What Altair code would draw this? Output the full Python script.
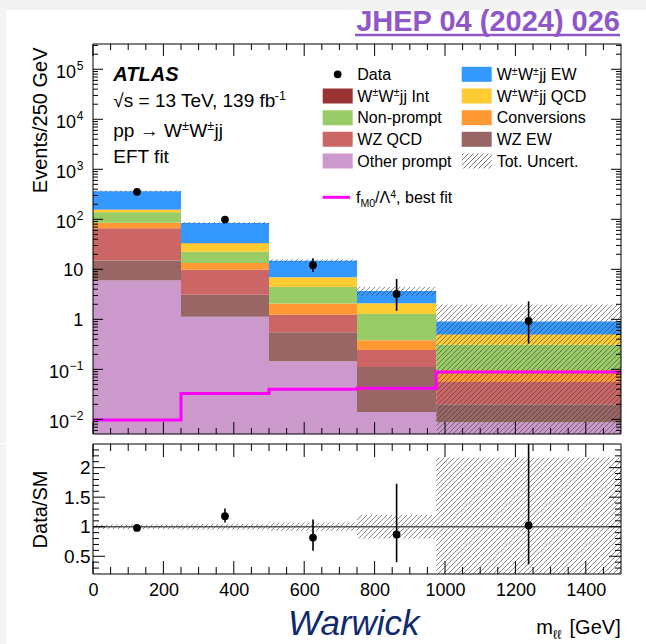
import math
import altair as alt
import pandas as pd

FONT = "Liberation Sans"

# ---------------------------------------------------------------- data
# m_ll binning [GeV]
bin_edges = [0, 250, 500, 750, 975, 1500]

# stacked SM prediction per bin, listed from the bottom of the stack upwards
processes = ["Other prompt", "WZ EW", "WZ QCD", "Conversions", "Non-prompt",
             "W±W±jj QCD", "W±W±jj Int", "W±W±jj EW"]
process_colors = ["#cc99cc", "#996666", "#cc6666", "#ff9933", "#99cc66",
                  "#ffcc33", "#993333", "#3399ff"]
other_prompt = [6.0, 1.13, 0.146, 0.014, 0.0088]
wz_ew = [9.0, 1.97, 0.409, 0.097, 0.0112]
wz_qcd = [51.5, 6.75, 0.685, 0.132, 0.036]
conversions = [18.5, 3.55, 0.83, 0.137, 0.041]
non_prompt = [53.0, 9.1, 2.38, 0.90, 0.213]
wwjj_qcd = [18.0, 10.9, 2.5, 0.82, 0.19]
wwjj_int = [0.3, 0.1, 0.02, 0.005, 0.001]
wwjj_ew = [206.0, 50.5, 7.83, 1.6, 0.409]
stack_components = [other_prompt, wz_ew, wz_qcd, conversions, non_prompt,
                    wwjj_qcd, wwjj_int, wwjj_ew]

# observed events and the ends of their error bars
data_counts = [355.0, 99.0, 12.1, 3.22, 0.93]
data_err_lo = [337.0, 90.0, 8.8, 1.48, 0.33]
data_err_hi = [374.0, 110.0, 16.6, 6.4, 2.3]

# relative total uncertainty of the prediction
unc_rel_up = [0.04, 0.05, 0.07, 0.20, 1.17]
unc_rel_dn = [0.04, 0.05, 0.07, 0.20, 1.17]

# f_M0 / Lambda^4 contribution at the best-fit value
fm0_best_fit = [0.0097, 0.033, 0.040, 0.042, 0.089]

# axis ticks
x_major_ticks = [0, 200, 400, 600, 800, 1000, 1200, 1400]
x_minor_ticks = [v for v in range(50, 1500, 50) if v % 200]
y_major_ticks = [1e-2, 1e-1, 1.0, 10.0, 1e2, 1e3, 1e4, 1e5]
ratio_major_ticks = [0.5, 1.0, 1.5, 2.0]
ratio_minor_ticks = [round(0.1 * i, 1) for i in range(3, 24) if i % 5]
y_label_plain = ["1", "10"]
y_label_pos_exp = ["2", "3", "4", "5"]
y_label_neg_exp = ["\u22121", "\u22122"]

# ---------------------------------------------------------------- layout
W, H_TOP, H_BOT = 528, 390, 130
LEFT, TOP, GAP = 93, 44, 9
PAGE_W, PAGE_H = 646, 644
X_MAX = 1500
Y_MIN, Y_MAX = 0.0051, 3.2e5
R_MIN, R_MAX = 0.2, 2.4
BOT_EXTRA = PAGE_H - (TOP + H_TOP + GAP + H_BOT)

y_minor_ticks = [m * 10.0 ** k for k in range(-3, 6) for m in range(2, 10)
                 if Y_MIN < m * 10.0 ** k < Y_MAX]

n_bins = len(bin_edges) - 1
centers = [(bin_edges[i] + bin_edges[i + 1]) / 2 for i in range(n_bins)]
totals = [sum(c[i] for c in stack_components) for i in range(n_bins)]

stack_rows = []
for i in range(n_bins):
    cum = 0.0
    for name, comp in zip(processes, stack_components):
        lo = cum if cum > 0 else Y_MIN
        cum += comp[i]
        stack_rows.append({"x0": bin_edges[i], "x1": bin_edges[i + 1],
                           "lo": lo, "hi": cum, "process": name})
stack_df = pd.DataFrame(stack_rows)

data_df = pd.DataFrame({"x": centers, "n": data_counts,
                        "lo": data_err_lo, "hi": data_err_hi})
ratio_df = pd.DataFrame({
    "x": centers,
    "r": [d / t for d, t in zip(data_counts, totals)],
    "lo": [d / t for d, t in zip(data_err_lo, totals)],
    "hi": [d / t for d, t in zip(data_err_hi, totals)],
})
fm0_df = pd.DataFrame({"x": bin_edges, "y": fm0_best_fit + [fm0_best_fit[-1]]})

# ---------------------------------------------------------------- hatching
HATCH_STEP = 5.0
L0, L1 = math.log10(Y_MIN), math.log10(Y_MAX)


def x_to_u(x):
    return x / X_MAX * W


def u_to_x(u):
    return u / W * X_MAX


def top_to_v(y):
    return (math.log10(y) - L0) / (L1 - L0) * H_TOP


def top_from_v(v):
    return 10 ** (L0 + v / H_TOP * (L1 - L0))


def bot_to_v(r):
    return (r - R_MIN) / (R_MAX - R_MIN) * H_BOT


def bot_from_v(v):
    return R_MIN + v / H_BOT * (R_MAX - R_MIN)


def hatch_lines(rects, xu, ux, yv, vy, step=HATCH_STEP):
    """45-degree '/' hatch segments filling each (x0, x1, y0, y1) box."""
    rows = []
    for x0, x1, y0, y1 in rects:
        u0, u1, v0, v1 = xu(x0), xu(x1), yv(y0), yv(y1)
        for k in range(math.ceil((v0 - u1) / step), math.floor((v1 - u0) / step) + 1):
            c = k * step
            ua, ub = max(u0, v0 - c), min(u1, v1 - c)
            if ub - ua > 0.2:
                rows.append({"x": ux(ua), "x2": ux(ub), "y": vy(ua + c), "y2": vy(ub + c)})
    return pd.DataFrame(rows)


top_band = [(bin_edges[i], bin_edges[i + 1],
             max(totals[i] * (1 - unc_rel_dn[i]), Y_MIN),
             min(totals[i] * (1 + unc_rel_up[i]), Y_MAX)) for i in range(n_bins)]
bot_band = [(bin_edges[i], bin_edges[i + 1],
             max(1 - unc_rel_dn[i], R_MIN), min(1 + unc_rel_up[i], R_MAX))
            for i in range(n_bins)]
hatch_top_df = hatch_lines(top_band, x_to_u, u_to_x, top_to_v, top_from_v)
hatch_bot_df = hatch_lines(bot_band, x_to_u, u_to_x, bot_to_v, bot_from_v)

# ---------------------------------------------------------------- rich text
CHAR_W = {" ": .278, ",": .278, "-": .333, ".": .278, "/": .278, "=": .584,
          "[": .278, "]": .278, "A": .667, "C": .722, "D": .722, "E": .667,
          "F": .611, "G": .778, "I": .278, "L": .556, "M": .833, "N": .722,
          "Q": .778, "S": .667, "T": .611, "U": .722, "V": .667, "W": .944,
          "Z": .611, "a": .556, "b": .556, "c": .5, "e": .556, "f": .278,
          "h": .556, "i": .222, "j": .222, "k": .5, "l": .222, "m": .833,
          "n": .556, "o": .556, "p": .556, "r": .333, "s": .5, "t": .278,
          "v": .5, "w": .722, "\u00b1": .584, "\u221a": .30, "\u2192": 1.0,
          "\u039b": .667, "\u2113": .417, "\u2212": .584}


def text_w(s, fs):
    return sum(CHAR_W.get(ch, 0.556) for ch in s) * fs


def rich(parts, x, y, fs, align="left"):
    sizes = {"n": fs, "sup": 0.66 * fs, "sub": 0.66 * fs}
    shift = {"n": 0.0, "sup": -0.34 * fs, "sub": 0.24 * fs}
    total = sum(text_w(t, sizes[k]) for t, k in parts)
    cx = x - total if align == "right" else x
    rows = []
    for t, k in parts:
        lead = len(t) - len(t.lstrip(" "))
        cx += lead * CHAR_W[" "] * sizes[k]
        body = t.strip(" ")
        if body:
            rows.append({"px": cx, "py": y + shift[k], "t": body, "fs": sizes[k]})
        cx += text_w(body, sizes[k])
    return rows


PM = "\u00b1"
LEG_FS = 16
row_c = [30.3, 52.0, 73.7, 95.3, 117.0]
col_box = [229.7, 368.7]
col_txt = [264.3, 403.7]
BOX_W, BOX_H = 30, 15

top_text = []
top_text += rich([("\u221as = 13 TeV, 139 fb", "n"), ("-1", "sup")], 20.3, 62.8, 19)
top_text += rich([("pp \u2192 W", "n"), (PM, "sup"), ("W", "n"), (PM, "sup"), ("jj", "n")],
                 20.3, 92.8, 19)
top_text += rich([("EFT fit", "n")], 20.3, 119.0, 19)

legend_col1 = [[("Data", "n")],
               [("W", "n"), (PM, "sup"), ("W", "n"), (PM, "sup"), ("jj Int", "n")],
               [("Non-prompt", "n")], [("WZ QCD", "n")], [("Other prompt", "n")]]
legend_col2 = [[("W", "n"), (PM, "sup"), ("W", "n"), (PM, "sup"), ("jj EW", "n")],
               [("W", "n"), (PM, "sup"), ("W", "n"), (PM, "sup"), ("jj QCD", "n")],
               [("Conversions", "n")], [("WZ EW", "n")], [("Tot. Uncert.", "n")]]
for r, parts in enumerate(legend_col1):
    top_text += rich(parts, col_txt[0], row_c[r] + 0.36 * LEG_FS, LEG_FS)
for r, parts in enumerate(legend_col2):
    top_text += rich(parts, col_txt[1], row_c[r] + 0.36 * LEG_FS, LEG_FS)
FIT_ROW = 153.3
top_text += rich([("f", "n"), ("M0", "sub"), ("/\u039b", "n"), ("4", "sup"), (", best fit", "n")],
                 263.0, FIT_ROW + 0.36 * LEG_FS, LEG_FS)
top_text_df = pd.DataFrame(top_text)

legend_box_df = pd.DataFrame([
    {"px": col_box[c], "px2": col_box[c] + BOX_W, "py": row_c[r] - BOX_H / 2,
     "py2": row_c[r] + BOX_H / 2, "process": name}
    for c, r, name in [(0, 1, "W±W±jj Int"), (0, 2, "Non-prompt"), (0, 3, "WZ QCD"),
                       (0, 4, "Other prompt"), (1, 0, "W±W±jj EW"), (1, 1, "W±W±jj QCD"),
                       (1, 2, "Conversions"), (1, 3, "WZ EW")]])
legend_hatch_df = hatch_lines(
    [(col_box[1], col_box[1] + BOX_W, row_c[4] + BOX_H / 2, row_c[4] - BOX_H / 2)],
    lambda x: x, lambda u: u, lambda y: -y, lambda v: -v)

bot_text_df = pd.DataFrame(rich([("m", "n"), ("\u2113\u2113", "sub"), (" [GeV]", "n")],
                                527.7, 190.0, 20, align="right"))

# ---------------------------------------------------------------- scales / axes
color_scale = alt.Scale(domain=processes, range=process_colors)
xs = alt.Scale(domain=[0, X_MAX], nice=False, zero=False)
ys_top = alt.Scale(type="log", domain=[Y_MIN, Y_MAX], nice=False)
ys_bot = alt.Scale(domain=[R_MIN, R_MAX], nice=False, zero=False)
px_top = alt.Scale(domain=[0, W], range=[0, W], nice=False, zero=False)
py_top = alt.Scale(domain=[0, H_TOP], range=[0, H_TOP], nice=False, zero=False)
px_bot = alt.Scale(domain=[0, W], range=[0, W], nice=False, zero=False)
py_bot = alt.Scale(domain=[0, H_BOT], range=[0, H_BOT], nice=False, zero=False)

AX_TOP_Y = alt.Axis(title="Events/250 GeV", labels=False, ticks=False, tickSize=0,
                    domain=False, grid=False, zindex=1, titleFont=FONT, titleFontSize=20,
                    titleFontWeight="normal", titleColor="black", titleAngle=270,
                    titleAlign="right", titleBaseline="alphabetic", titleX=-46.3, titleY=3)
AX_BOT_Y = alt.Axis(title="Data/SM", values=ratio_major_ticks, format="~g", ticks=False,
                    tickSize=0, domain=False, grid=False, zindex=1, labelFont=FONT,
                    labelFontSize=19, labelColor="black", labelPadding=3, titleFont=FONT,
                    titleFontSize=20, titleFontWeight="normal", titleColor="black",
                    titleAngle=270, titleAlign="center", titleBaseline="alphabetic",
                    titleX=-46.3, titleY=H_BOT / 2)
AX_BOT_X = alt.Axis(title=None, values=x_major_ticks, format="d", ticks=False, tickSize=0,
                    domain=False, grid=False, zindex=1, labelFont=FONT, labelFontSize=18,
                    labelColor="black", labelPadding=7, labelFlush=False)


def xt(field):
    return alt.X(field, type="quantitative", scale=xs, axis=None)


def yt(field):
    return alt.Y(field, type="quantitative", scale=ys_top, axis=AX_TOP_Y)


def xb(field):
    return alt.X(field, type="quantitative", scale=xs, axis=AX_BOT_X)


def yb(field):
    return alt.Y(field, type="quantitative", scale=ys_bot, axis=AX_BOT_Y)


one = pd.DataFrame({"k": [0]})
BG_STRIP = "#f3f3f3"


def ticks_df(values):
    return pd.DataFrame({"v": values})


def x_ticks(xenc, values, h, length):
    d = ticks_df(values)
    return [alt.Chart(d).mark_rule(color="black", strokeWidth=1).encode(
                x=xenc("v"), y=alt.value(h), y2=alt.value(h - length)),
            alt.Chart(d).mark_rule(color="black", strokeWidth=1).encode(
                x=xenc("v"), y=alt.value(0), y2=alt.value(length))]


def y_ticks(yenc, values, length):
    d = ticks_df(values)
    return [alt.Chart(d).mark_rule(color="black", strokeWidth=1).encode(
                y=yenc("v"), x=alt.value(0), x2=alt.value(length)),
            alt.Chart(d).mark_rule(color="black", strokeWidth=1).encode(
                y=yenc("v"), x=alt.value(W - length), x2=alt.value(W))]


# ---------------------------------------------------------------- upper panel
top_layers = [
    # page background (also fixes the page extent) and the grey margin strips
    alt.Chart(one).mark_rect(color="white").encode(
        x=alt.value(-LEFT), x2=alt.value(PAGE_W - LEFT), y=alt.value(-TOP),
        y2=alt.value(H_TOP + GAP)),
    alt.Chart(one).mark_rect(color=BG_STRIP).encode(
        x=alt.value(-LEFT), x2=alt.value(PAGE_W - LEFT), y=alt.value(-TOP), y2=alt.value(-TOP + 10)),
    alt.Chart(one).mark_rect(color=BG_STRIP).encode(
        x=alt.value(-LEFT), x2=alt.value(-LEFT + 6), y=alt.value(-TOP + 10),
        y2=alt.value(H_TOP + GAP)),
    alt.Chart(stack_df).mark_rect(clip=True).encode(
        x=xt("x0"), x2="x1", y=yt("lo"), y2="hi",
        color=alt.Color("process:N", scale=color_scale, legend=None)),
    alt.Chart(hatch_top_df).mark_rule(color="#3c3c3c", strokeWidth=1, opacity=0.6, clip=True).encode(
        x=xt("x"), x2="x2", y=yt("y"), y2="y2"),
    alt.Chart(fm0_df).mark_line(interpolate="step-after", color="#ff00ff", strokeWidth=3,
                                clip=True).encode(x=xt("x"), y=yt("y")),
    alt.Chart(data_df).mark_rule(color="black", strokeWidth=1.6, clip=True).encode(
        x=xt("x"), y=yt("lo"), y2="hi"),
    alt.Chart(data_df).mark_circle(size=60, color="black", opacity=1).encode(
        x=xt("x"), y=yt("n")),
]
top_layers += x_ticks(xt, x_major_ticks, H_TOP, 12)
top_layers += x_ticks(xt, x_minor_ticks, H_TOP, 6)
top_layers += y_ticks(yt, y_major_ticks, 10)
top_layers += y_ticks(yt, y_minor_ticks, 5)

# y labels of the log axis: 1, 10 and powers of ten with raised exponents
LAB_FS, EXP_FS, LAB_PAD = 18, 12, 9.7
w_pos = text_w("5", EXP_FS)
w_neg = text_w("\u22121", EXP_FS)
lab_plain = pd.DataFrame({"v": [1.0, 10.0], "t": y_label_plain})
lab_pos = pd.DataFrame({"v": [1e2, 1e3, 1e4, 1e5], "t": y_label_pos_exp})
lab_neg = pd.DataFrame({"v": [1e-1, 1e-2], "t": y_label_neg_exp})


def label_layer(d, field, x, align, fs, dy):
    return alt.Chart(d).mark_text(font=FONT, fontSize=fs, align=align, baseline="alphabetic",
                                  dy=dy, color="black").encode(
        y=yt("v"), x=alt.value(x), text=field)


top_layers += [
    label_layer(lab_plain, "t:N", -LAB_PAD, "right", LAB_FS, 6.5),
    label_layer(lab_pos.assign(b="10"), "b:N", -LAB_PAD - w_pos - 0.5, "right", LAB_FS, 8.5),
    label_layer(lab_pos, "t:N", -LAB_PAD - w_pos, "left", EXP_FS, 0.5),
    label_layer(lab_neg.assign(b="10"), "b:N", -LAB_PAD - w_neg - 0.5, "right", LAB_FS, 8.5),
    label_layer(lab_neg, "t:N", -LAB_PAD - w_neg, "left", EXP_FS, 0.5),
]
top_data = alt.layer(*top_layers)


def ptx(field, sc):
    return alt.X(field, type="quantitative", scale=sc, axis=None)


def pty(field, sc):
    return alt.Y(field, type="quantitative", scale=sc, axis=None)


def text_layer(d, px, py, **kw):
    return alt.Chart(d).mark_text(font=FONT, align="left", baseline="alphabetic", **kw).encode(
        x=ptx("px", px), y=pty("py", py), text="t:N",
        size=alt.Size("fs:Q", scale=None, legend=None))


legend_marker_df = pd.DataFrame({"px": [col_box[0] + BOX_W / 2], "py": [row_c[0]]})
fit_line_df = pd.DataFrame({"px": [col_box[0]], "px2": [257.0], "py": [FIT_ROW]})
frame_top_df = pd.DataFrame({"px": [0], "px2": [W], "py": [0], "py2": [H_TOP]})
atlas_df = pd.DataFrame({"px": [20.3], "py": [36.5], "t": ["ATLAS"], "fs": [20]})
ref_df = pd.DataFrame({"px": [527.0], "py": [-13.0], "t": ["JHEP 04 (2024) 026"], "fs": [29]})
ref_line_df = pd.DataFrame({"px": [262.0], "px2": [527.0], "py": [-9.0]})

top_annot = alt.layer(
    text_layer(top_text_df, px_top, py_top, color="black"),
    text_layer(atlas_df, px_top, py_top, color="black", fontStyle="italic", fontWeight="bold"),
    alt.Chart(ref_df).mark_text(font=FONT, align="right", baseline="alphabetic",
                                fontWeight="bold", color="#8e58c8").encode(
        x=ptx("px", px_top), y=pty("py", py_top), text="t:N",
        size=alt.Size("fs:Q", scale=None, legend=None)),
    alt.Chart(ref_line_df).mark_rule(color="#8e58c8", strokeWidth=2.5).encode(
        x=ptx("px", px_top), x2="px2", y=pty("py", py_top)),
    alt.Chart(legend_box_df).mark_rect().encode(
        x=ptx("px", px_top), x2="px2", y=pty("py", py_top), y2="py2",
        color=alt.Color("process:N", scale=color_scale, legend=None)),
    alt.Chart(legend_hatch_df).mark_rule(color="#555555", strokeWidth=1, opacity=0.8).encode(
        x=ptx("x", px_top), x2="x2", y=pty("y", py_top), y2="y2"),
    alt.Chart(fit_line_df).mark_rule(color="#ff00ff", strokeWidth=3).encode(
        x=ptx("px", px_top), x2="px2", y=pty("py", py_top)),
    alt.Chart(legend_marker_df).mark_circle(size=60, color="black", opacity=1).encode(
        x=ptx("px", px_top), y=pty("py", py_top)),
    alt.Chart(frame_top_df).mark_rect(fillOpacity=0, stroke="black", strokeWidth=1).encode(
        x=ptx("px", px_top), x2="px2", y=pty("py", py_top), y2="py2"),
)

top_chart = alt.layer(top_data, top_annot).resolve_scale(
    x="independent", y="independent").properties(width=W, height=H_TOP)

# ---------------------------------------------------------------- ratio panel
bot_layers = [
    alt.Chart(one).mark_rect(color="white").encode(
        x=alt.value(-LEFT), x2=alt.value(PAGE_W - LEFT), y=alt.value(0),
        y2=alt.value(H_BOT + BOT_EXTRA)),
    alt.Chart(one).mark_rect(color=BG_STRIP).encode(
        x=alt.value(-LEFT), x2=alt.value(-LEFT + 6), y=alt.value(0),
        y2=alt.value(H_BOT + BOT_EXTRA)),
    alt.Chart(hatch_bot_df).mark_rule(color="#3c3c3c", strokeWidth=1, opacity=0.6, clip=True).encode(
        x=xb("x"), x2="x2", y=yb("y"), y2="y2"),
    alt.Chart(pd.DataFrame({"v": [1.0]})).mark_rule(color="#555555", strokeWidth=1.5).encode(
        y=yb("v"), x=alt.value(0), x2=alt.value(W)),
    alt.Chart(ratio_df).mark_rule(color="black", strokeWidth=1.6, clip=True).encode(
        x=xb("x"), y=yb("lo"), y2="hi"),
    alt.Chart(ratio_df).mark_circle(size=60, color="black", opacity=1).encode(
        x=xb("x"), y=yb("r")),
]
bot_layers += x_ticks(xb, x_major_ticks, H_BOT, 13)
bot_layers += x_ticks(xb, x_minor_ticks, H_BOT, 7)
bot_layers += y_ticks(yb, ratio_major_ticks, 12)
bot_layers += y_ticks(yb, ratio_minor_ticks, 6)
bot_data = alt.layer(*bot_layers)

frame_bot_df = pd.DataFrame({"px": [0], "px2": [W], "py": [0], "py2": [H_BOT]})
brand_df = pd.DataFrame({"px": [195.0], "py": [191.0], "t": ["Warwick"], "fs": [35]})
bot_annot = alt.layer(
    text_layer(bot_text_df, px_bot, py_bot, color="black"),
    text_layer(brand_df, px_bot, py_bot, color="#102a6e", fontStyle="italic"),
    alt.Chart(frame_bot_df).mark_rect(fillOpacity=0, stroke="black", strokeWidth=1).encode(
        x=ptx("px", px_bot), x2="px2", y=pty("py", py_bot), y2="py2"),
)

bot_chart = alt.layer(bot_data, bot_annot).resolve_scale(
    x="independent", y="independent").properties(width=W, height=H_BOT)

chart = alt.vconcat(top_chart, bot_chart, spacing=0).properties(
    padding=0, background="white").configure_view(strokeWidth=0)

chart.save("out.html", embed_options={"renderer": "svg", "actions": False})
